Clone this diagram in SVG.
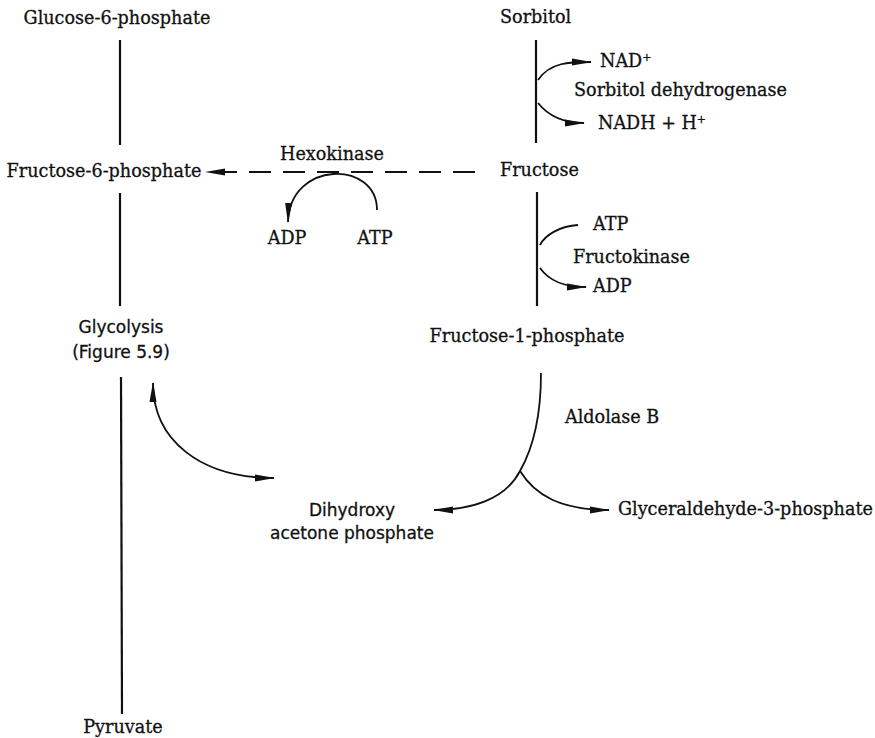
<svg xmlns="http://www.w3.org/2000/svg" width="875" height="738" viewBox="0 0 875 738">
<style>
.t{font-family:"DejaVu Serif","Liberation Serif",serif;font-size:17.6px;fill:#111;stroke:#111;stroke-width:0.3}
.s{font-family:"DejaVu Sans","Open Sans",sans-serif;font-size:17px;fill:#111;stroke:#111;stroke-width:0.3}
.c{text-anchor:middle}
.ln{stroke:#111;stroke-width:2.2;fill:none}
.cv{stroke:#111;stroke-width:1.8;fill:none}
.ds{stroke:#111;stroke-width:1.8;fill:none;stroke-dasharray:22 12}
</style>
<defs>
<marker id="ah" viewBox="0 0 20 10" refX="19" refY="5" markerWidth="20" markerHeight="10" markerUnits="userSpaceOnUse" orient="auto-start-reverse">
<path d="M0,1.5 L20,5 L0,8.5 Z" fill="#111"/>
</marker>
</defs>
<rect width="875" height="738" fill="#fff"/>
<g id="connectors">
<line class="ln" x1="120" y1="40" x2="120" y2="145"/>
<line class="ln" x1="120" y1="193" x2="120" y2="306"/>
<line class="ln" x1="121" y1="377" x2="122" y2="714"/>
<line class="ln" x1="536" y1="40" x2="536" y2="143"/>
<line class="ln" x1="537" y1="192" x2="537" y2="306"/>
<path class="ds" d="M475,172 L206,172" marker-end="url(#ah)"/>
<path class="cv" d="M377,210 C377,160 290,160 288,222" marker-end="url(#ah)"/>
<path class="cv" d="M538,80 C550,62 570,62 591,62" marker-end="url(#ah)"/>
<path class="cv" d="M538,103 C550,118 565,123 584,123" marker-end="url(#ah)"/>
<path class="cv" d="M578,225 C560,226 545,235 540,245"/>
<path class="cv" d="M540,268 C550,282 565,287 586,287" marker-end="url(#ah)"/>
<path class="cv" d="M541,373 C541,420 532,450 520,471 C505,500 470,510 434,510" marker-end="url(#ah)"/>
<path class="cv" d="M520,471 C535,495 560,510 609,510" marker-end="url(#ah)"/>
<path class="cv" d="M274,478 C200,478 153,440 153,383" marker-start="url(#ah)" marker-end="url(#ah)"/>
</g>
<g id="glucose6p"><text class="t c" x="117" y="24">Glucose-6-phosphate</text></g>
<g id="fructose6p"><text class="t c" x="104" y="177">Fructose-6-phosphate</text></g>
<g id="glycolysis"><text class="s c" x="121" y="333">Glycolysis</text><text class="s c" x="121" y="358">(Figure 5.9)</text></g>
<g id="pyruvate"><text class="t c" x="123" y="733">Pyruvate</text></g>
<g id="hexokinase"><text class="t c" x="332" y="160">Hexokinase</text></g>
<g id="adp1"><text class="t c" x="287" y="244">ADP</text></g>
<g id="atp1"><text class="t c" x="375" y="244">ATP</text></g>
<g id="sorbitol"><text class="t" x="500" y="23">Sorbitol</text></g>
<g id="nad"><text class="t" x="600" y="67">NAD<tspan dy="-6" font-size="11">+</tspan></text></g>
<g id="sdh"><text class="t" x="574" y="96">Sorbitol dehydrogenase</text></g>
<g id="nadh"><text class="t" x="598" y="129">NADH + H<tspan dy="-6" font-size="11">+</tspan></text></g>
<g id="fructose"><text class="t" x="500" y="176">Fructose</text></g>
<g id="atp2"><text class="t" x="593" y="230">ATP</text></g>
<g id="fructokinase"><text class="t" x="573" y="263">Fructokinase</text></g>
<g id="adp2"><text class="t" x="593" y="292">ADP</text></g>
<g id="fructose1p"><text class="t c" x="527" y="342">Fructose-1-phosphate</text></g>
<g id="aldolaseb"><text class="t" x="565" y="423">Aldolase B</text></g>
<g id="dhap"><text class="s c" x="352" y="516">Dihydroxy</text><text class="s c" x="352" y="539">acetone phosphate</text></g>
<g id="g3p"><text class="t" x="618" y="515">Glyceraldehyde-3-phosphate</text></g>
</svg>
